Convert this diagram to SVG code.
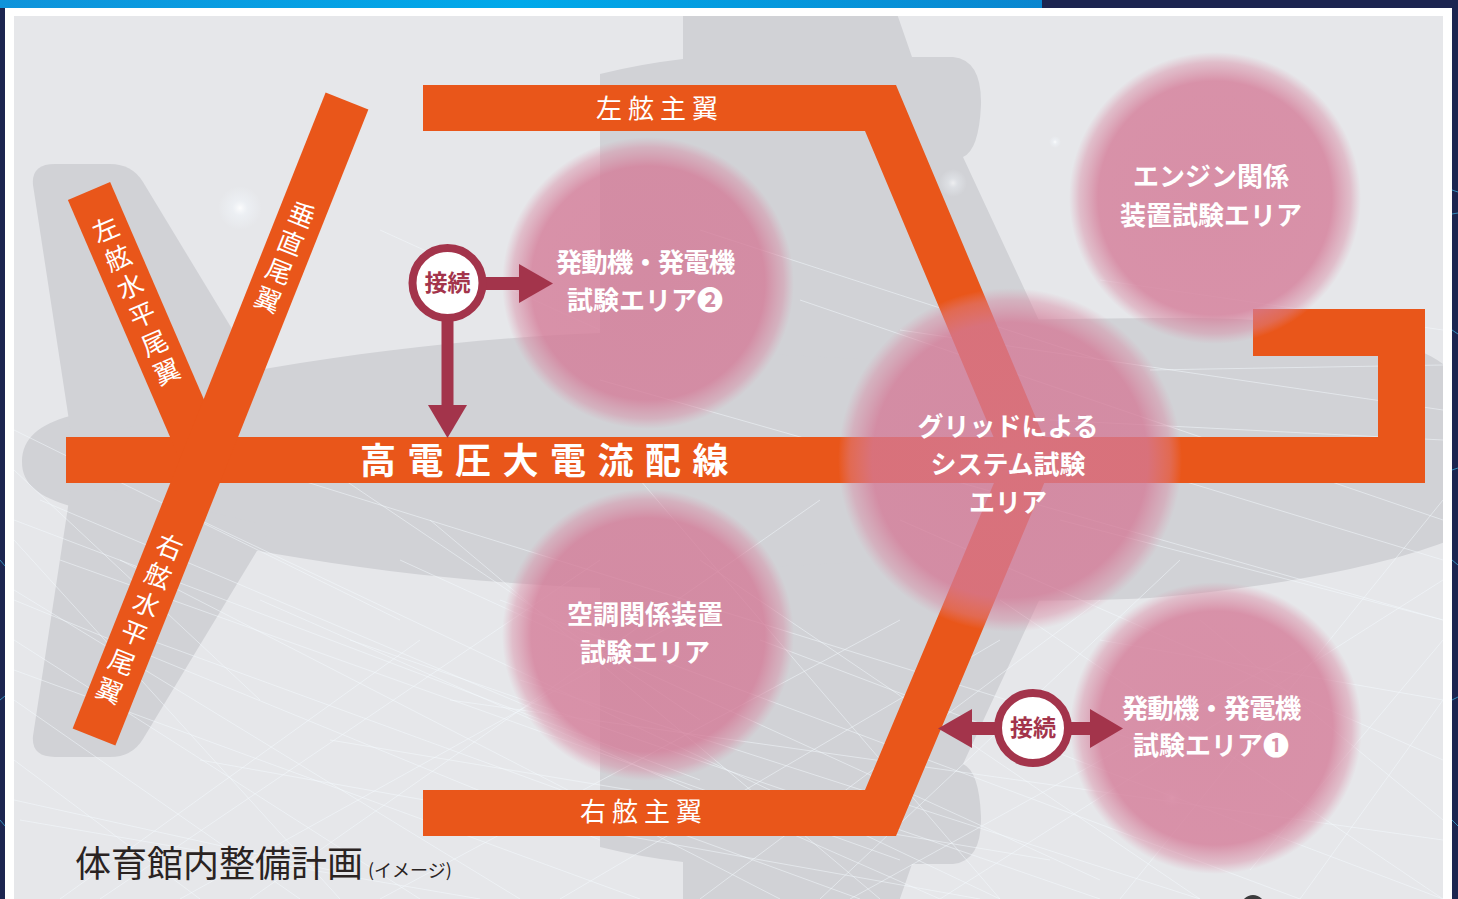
<svg xmlns="http://www.w3.org/2000/svg" xmlns:xlink="http://www.w3.org/1999/xlink" width="1458" height="899" viewBox="0 0 1458 899">
  <defs>
    <style>
      .jp { font-family: "Noto Sans CJK JP", "Noto Sans CJK SC", sans-serif; }
      .bar { fill: #e9561a; }
      .plane { fill: #d1d2d6; }
      .area-label { font-size: 26px; font-weight: 700; fill: #ffffff; text-anchor: middle; }
      .tight { font-size: 26.5px; letter-spacing: -1px; }
      .wing-label { font-size: 26px; font-weight: 400; fill: #ffffff; letter-spacing: 6px; }
      .tail-char { font-size: 26px; font-weight: 400; fill: #ffffff; text-anchor: middle; dominant-baseline: central; }
      .link-ring { fill: #ffffff; stroke: #a3344b; stroke-width: 8; }
      .link-text { font-size: 23px; font-weight: 700; fill: #a3344b; text-anchor: middle; }
      .link-arrow { fill: #a3344b; }
      .streak { stroke: #f4fbff; stroke-opacity: 0.55; stroke-width: 0.9; fill: none; }
    </style>
    <linearGradient id="topBar" x1="0" y1="0" x2="1" y2="0">
      <stop offset="0" stop-color="#0f93da"/>
      <stop offset="0.5" stop-color="#00a9ea"/>
      <stop offset="1" stop-color="#0a86cf"/>
    </linearGradient>
    <radialGradient id="areaFill" cx="0.5" cy="0.5" r="0.5">
      <stop offset="0" stop-color="#d47996" stop-opacity="0.8"/>
      <stop offset="0.8" stop-color="#d47996" stop-opacity="0.78"/>
      <stop offset="0.93" stop-color="#d8859f" stop-opacity="0.42"/>
      <stop offset="1" stop-color="#dc90a8" stop-opacity="0"/>
    </radialGradient>
    <radialGradient id="glow" cx="0.5" cy="0.5" r="0.5">
      <stop offset="0" stop-color="#ffffff" stop-opacity="0.9"/>
      <stop offset="0.35" stop-color="#f2f7fc" stop-opacity="0.5"/>
      <stop offset="1" stop-color="#f2f7fc" stop-opacity="0"/>
    </radialGradient>
    <clipPath id="panelClip">
      <rect x="14" y="16" width="1429" height="883"/>
    </clipPath>
    <!-- one tail plane + one main wing; the other side is mirrored about the fuselage axis -->
    <g id="halfPlane">
      <path d="M72,440 L33,185 Q31,164 55,164 L110,164 Q132,164 143,182 L272,395 Z"/>
      <path d="M600,345 L600,74 Q640,64 683,59 L683,8 L895,8 L912,57 L953,57 Q982,60 981,105 Q979,150 963,157 L1062,370 Z"/>
    </g>
  </defs>

  <!-- page frame -->
  <g id="frame">
    <rect x="0" y="0" width="1458" height="899" fill="#1c2550"/>
    <rect x="0" y="0" width="1042" height="8" fill="url(#topBar)"/>
    <rect x="5" y="8" width="1447" height="891" fill="#ffffff"/>
    <rect x="14" y="16" width="1429" height="883" fill="#e6e7ea"/>
    <g stroke="#3fb6e6" stroke-width="1" stroke-opacity="0.7">
      <line x1="1452" y1="190" x2="1458" y2="192"/>
      <line x1="1452" y1="214" x2="1458" y2="213"/>
      <line x1="1452" y1="330" x2="1458" y2="334"/>
      <line x1="1452" y1="470" x2="1458" y2="468"/>
      <line x1="1452" y1="560" x2="1458" y2="565"/>
      <line x1="1452" y1="700" x2="1458" y2="697"/>
      <line x1="1452" y1="820" x2="1458" y2="826"/>
      <line x1="0" y1="560" x2="5" y2="566"/>
      <line x1="0" y1="700" x2="5" y2="696"/>
      <line x1="0" y1="820" x2="5" y2="826"/>
    </g>
  </g>

  <!-- aircraft silhouette, top view, nose to the right -->
  <g id="aircraft" class="plane" clip-path="url(#panelClip)">
    <path d="M22,462 C22,438 40,424 70,416 C120,400 200,380 270,368 C380,350 480,338 600,333 C800,325 1000,318 1200,318 C1330,320 1420,340 1450,370 C1480,410 1480,500 1450,540 C1400,560 1300,585 1150,598 C1000,605 800,597 600,588 C480,583 380,572 270,553 C200,542 120,522 70,506 C40,497 22,485 22,462 Z"/>
    <use xlink:href="#halfPlane"/>
    <use xlink:href="#halfPlane" transform="matrix(1 0 0 -1 0 921)"/>
  </g>

  <!-- light streaks -->
  <g id="streaks" class="streak" clip-path="url(#panelClip)">
    <line x1="14" y1="590" x2="520" y2="899"/>
    <line x1="14" y1="640" x2="420" y2="899"/>
    <line x1="60" y1="560" x2="900" y2="860"/>
    <line x1="200" y1="520" x2="1000" y2="899"/>
    <line x1="300" y1="480" x2="1200" y2="760"/>
    <line x1="14" y1="520" x2="700" y2="780"/>
    <line x1="400" y1="560" x2="1100" y2="880"/>
    <line x1="500" y1="600" x2="1300" y2="899"/>
    <line x1="100" y1="899" x2="600" y2="560"/>
    <line x1="250" y1="899" x2="820" y2="500"/>
    <line x1="380" y1="899" x2="900" y2="620"/>
    <line x1="700" y1="899" x2="1100" y2="600"/>
    <line x1="14" y1="700" x2="300" y2="899"/>
    <line x1="14" y1="760" x2="200" y2="899"/>
    <line x1="150" y1="640" x2="860" y2="899"/>
    <line x1="600" y1="380" x2="1443" y2="620"/>
    <line x1="800" y1="300" x2="1443" y2="520"/>
    <line x1="900" y1="520" x2="1443" y2="760"/>
    <line x1="1000" y1="600" x2="1443" y2="899"/>
    <line x1="1100" y1="280" x2="1443" y2="330"/>
    <line x1="1150" y1="370" x2="1443" y2="365"/>
    <line x1="1180" y1="480" x2="1443" y2="560"/>
    <line x1="1200" y1="620" x2="1443" y2="820"/>
    <line x1="1250" y1="870" x2="1443" y2="640"/>
    <line x1="560" y1="899" x2="1000" y2="640"/>
    <line x1="300" y1="450" x2="700" y2="720"/>
    <line x1="14" y1="430" x2="400" y2="620"/>
    <line x1="850" y1="899" x2="1300" y2="650"/>
    <line x1="450" y1="700" x2="1443" y2="840"/>
    <line x1="640" y1="480" x2="1000" y2="899"/>
    <line x1="1050" y1="420" x2="1443" y2="440"/>
    <line x1="20" y1="820" x2="480" y2="899"/>
    <line x1="1300" y1="899" x2="1443" y2="700"/>
    <line x1="700" y1="560" x2="1200" y2="899"/>
    <line x1="350" y1="640" x2="1100" y2="899"/>
    <line x1="700" y1="230" x2="1100" y2="360"/>
    <line x1="380" y1="230" x2="600" y2="330"/>
    <line x1="14" y1="600" x2="600" y2="840"/>
    <line x1="14" y1="670" x2="640" y2="899"/>
    <line x1="40" y1="500" x2="560" y2="720"/>
    <line x1="14" y1="800" x2="330" y2="870"/>
    <line x1="120" y1="560" x2="780" y2="899"/>
    <line x1="260" y1="600" x2="940" y2="899"/>
    <line x1="14" y1="540" x2="340" y2="899"/>
    <line x1="60" y1="899" x2="420" y2="640"/>
    <line x1="180" y1="899" x2="700" y2="610"/>
    <line x1="330" y1="740" x2="1050" y2="860"/>
    <line x1="430" y1="520" x2="880" y2="899"/>
    <line x1="520" y1="680" x2="1200" y2="899"/>
    <line x1="760" y1="640" x2="1443" y2="899"/>
    <line x1="820" y1="899" x2="1180" y2="560"/>
    <line x1="940" y1="899" x2="1443" y2="580"/>
    <line x1="1120" y1="899" x2="1443" y2="500"/>
    <line x1="1100" y1="640" x2="1443" y2="700"/>
    <line x1="1060" y1="520" x2="1443" y2="620"/>
    <line x1="14" y1="470" x2="260" y2="700"/>
    <line x1="200" y1="760" x2="980" y2="899"/>
    <line x1="900" y1="330" x2="1443" y2="410"/>
  </g>

  <!-- soft light spots -->
  <g id="spots">
    <circle cx="240" cy="208" r="22" fill="url(#glow)"/>
    <circle cx="953" cy="183" r="14" fill="url(#glow)" opacity="0.7"/>
    <circle cx="1055" cy="142" r="6" fill="url(#glow)"/>
    <circle cx="1172" cy="798" r="10" fill="url(#glow)"/>
  </g>

  <!-- high-voltage / high-current wiring -->
  <g id="wiring">
    <g id="main-line">
      <rect class="bar" x="66" y="437" width="1359" height="46"/>
      <rect class="bar" x="1253" y="309" width="172" height="47"/>
      <rect class="bar" x="1378" y="309" width="47" height="174"/>
      <text class="jp" x="360" y="474" font-size="36" font-weight="700" fill="#ffffff" letter-spacing="11.5">高電圧大電流配線</text>
    </g>
    <g id="tail-left">
      <line x1="89" y1="191" x2="205" y2="460" stroke="#e9561a" stroke-width="46"/>
      <g class="jp">
        <text class="tail-char" transform="translate(104.8 227.7) rotate(-23.3)">左</text>
        <text class="tail-char" transform="translate(117.1 256.2) rotate(-23.3)">舷</text>
        <text class="tail-char" transform="translate(129.4 284.6) rotate(-23.3)">水</text>
        <text class="tail-char" transform="translate(141.7 313.1) rotate(-23.3)">平</text>
        <text class="tail-char" transform="translate(153.9 341.6) rotate(-23.3)">尾</text>
        <text class="tail-char" transform="translate(166.2 370.0) rotate(-23.3)">翼</text>
      </g>
    </g>
    <g id="tail-vertical-right">
      <line x1="347" y1="101" x2="94" y2="737" stroke="#e9561a" stroke-width="46"/>
      <g class="jp">
        <text class="tail-char" transform="translate(302.5 213) rotate(21.7)">垂</text>
        <text class="tail-char" transform="translate(291.2 241.3) rotate(21.7)">直</text>
        <text class="tail-char" transform="translate(279.9 269.6) rotate(21.7)">尾</text>
        <text class="tail-char" transform="translate(268.6 298) rotate(21.7)">翼</text>
        <text class="tail-char" transform="translate(170.3 545.1) rotate(21.7)">右</text>
        <text class="tail-char" transform="translate(158.9 573.9) rotate(21.7)">舷</text>
        <text class="tail-char" transform="translate(147.0 602.7) rotate(21.7)">水</text>
        <text class="tail-char" transform="translate(135.0 631.5) rotate(21.7)">平</text>
        <text class="tail-char" transform="translate(122.5 660.3) rotate(21.7)">尾</text>
        <text class="tail-char" transform="translate(110.0 689.1) rotate(21.7)">翼</text>
      </g>
    </g>
    <g id="main-wings">
      <polygon class="bar" points="423,85 896,85 1053.7,460.5 896,836 423,836 423,790 865,790 1003.4,460.5 865,131 423,131"/>
      <text class="jp wing-label" x="596" y="118">左舷主翼</text>
      <text class="jp wing-label" x="580" y="821">右舷主翼</text>
    </g>
  </g>

  <!-- test areas -->
  <g id="area-engine-2">
    <circle cx="648" cy="283" r="146" fill="url(#areaFill)"/>
    <text class="jp area-label tight" x="645" y="272">発動機・発電機</text>
    <text class="jp area-label" x="645" y="310">試験エリア❷</text>
  </g>
  <g id="area-aircon">
    <circle cx="648" cy="635" r="146" fill="url(#areaFill)"/>
    <text class="jp area-label" x="645" y="624">空調関係装置</text>
    <text class="jp area-label" x="645" y="662">試験エリア</text>
  </g>
  <g id="area-grid">
    <circle cx="1010" cy="460" r="172" fill="url(#areaFill)"/>
    <text class="jp area-label" x="1008" y="436">グリッドによる</text>
    <text class="jp area-label" x="1008" y="474">システム試験</text>
    <text class="jp area-label" x="1008" y="512">エリア</text>
  </g>
  <g id="area-engine-equipment">
    <circle cx="1215" cy="198" r="146" fill="url(#areaFill)"/>
    <text class="jp area-label" x="1211" y="186">エンジン関係</text>
    <text class="jp area-label" x="1211" y="225">装置試験エリア</text>
  </g>
  <g id="area-engine-1">
    <circle cx="1216" cy="728" r="146" fill="url(#areaFill)"/>
    <text class="jp area-label tight" x="1211" y="718">発動機・発電機</text>
    <text class="jp area-label" x="1211" y="755">試験エリア❶</text>
  </g>

  <!-- connection links -->
  <g id="connectors">
    <g id="link-1">
      <rect class="link-arrow" x="482" y="277" width="38" height="13"/>
      <polygon class="link-arrow" points="519,264 553,283.5 519,303"/>
      <rect class="link-arrow" x="441.5" y="318" width="12" height="88"/>
      <polygon class="link-arrow" points="428,405 467,405 447.5,438"/>
      <circle class="link-ring" cx="447.5" cy="283" r="35"/>
      <text class="jp link-text" x="447.5" y="291">接続</text>
    </g>
    <g id="link-2">
      <rect class="link-arrow" x="970" y="722" width="30" height="13"/>
      <polygon class="link-arrow" points="972,709 938,728.5 972,748"/>
      <rect class="link-arrow" x="1066" y="722" width="26" height="13"/>
      <polygon class="link-arrow" points="1090,709 1123,728.5 1090,748"/>
      <circle class="link-ring" cx="1033" cy="728" r="35"/>
      <text class="jp link-text" x="1033" y="736">接続</text>
    </g>
  </g>

  <!-- caption -->
  <g id="caption">
    <text class="jp" x="75" y="877" font-size="36" fill="#2a2322">体育館内整備計画<tspan font-size="18" dx="5">(イメージ)</tspan></text>
  </g>

  <!-- edge of a badge below the panel -->
  <g id="badge">
    <circle cx="1253" cy="907" r="12" fill="#3b3b3d"/>
    <circle cx="1253" cy="908" r="7" fill="#d8322a"/>
  </g>
</svg>
